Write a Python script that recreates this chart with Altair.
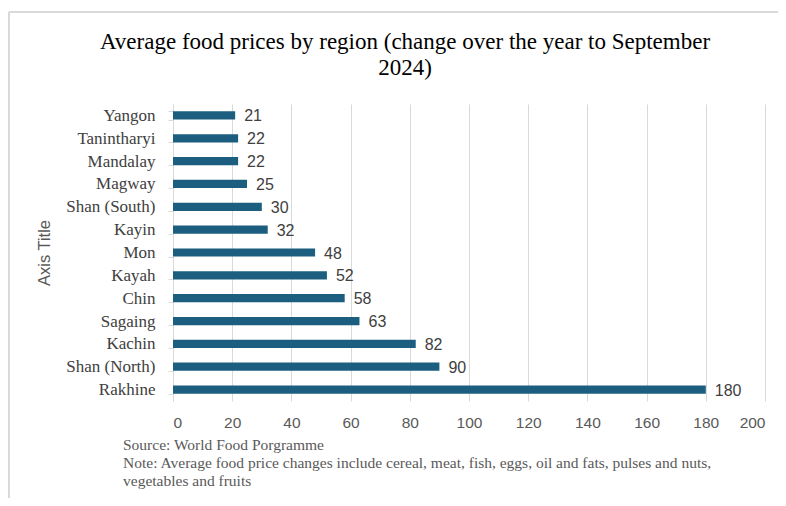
import altair as alt
import pandas as pd

regions = ["Yangon", "Tanintharyi", "Mandalay", "Magway", "Shan (South)", "Kayin",
           "Mon", "Kayah", "Chin", "Sagaing", "Kachin", "Shan (North)", "Rakhine"]
values = [21, 22, 22, 25, 30, 32, 48, 52, 58, 63, 82, 90, 180]
x_ticks = [0, 20, 40, 60, 80, 100, 120, 140, 160, 180, 200]
title_lines = ["Average food prices by region (change over the year to September", "2024)"]
notes = ["Source: World Food Porgramme",
         "Note: Average food price changes include cereal, meat, fish, eggs, oil and fats, pulses and nuts,",
         "vegetables and fruits"]

df = pd.DataFrame({"region": regions, "value": values})
notes_df = pd.DataFrame({"text": ["\n".join(notes)]})
title_df = pd.DataFrame({"text": ["\n".join(title_lines)]})

W, H = 592, 297
SERIF = "Liberation Serif"
SANS = "Liberation Sans"
GRID = "#d9d9d9"

base = alt.Chart(df)

bars = base.mark_bar(color="#1b5e80").encode(
    y=alt.Y("region:N", sort=regions,
            scale=alt.Scale(paddingInner=0.64, paddingOuter=0.32),
            axis=alt.Axis(title="Axis Title", titleFont=SANS, titleFontSize=16.5,
                          titleFontWeight="normal", titleColor="#595959",
                          titleX=-121,
                          labelFont=SERIF, labelFontSize=17, labelColor="#404040",
                          labelPadding=13, tickSize=5, tickColor=GRID, tickBand="extent",
                          domainColor=GRID, grid=False)),
    x=alt.X("value:Q", scale=alt.Scale(domain=[0, 200], nice=False),
            axis=alt.Axis(title=None, values=x_ticks, labelFont=SANS, labelFontSize=15.5,
                          labelColor="#595959", labelPadding=14, domain=False, ticks=False,
                          grid=True, gridColor=GRID)),
)

labels = base.mark_text(align="left", baseline="middle", dx=9, dy=1, font=SANS,
                        fontSize=16, color="#404040").encode(
    y=alt.Y("region:N", sort=regions),
    x="value:Q",
    text="value:Q",
)

note_text = alt.Chart(notes_df).mark_text(align="left", baseline="middle", font=SERIF,
                                          fontSize=15.5, lineHeight=18, lineBreak="\n",
                                          color="#595959").encode(
    x=alt.value(-50),
    y=alt.value(341),
    text="text:N",
)

title_text = alt.Chart(title_df).mark_text(align="center", baseline="middle", font=SERIF,
                                           fontSize=23, lineHeight=26, lineBreak="\n",
                                           color="#000000").encode(
    x=alt.value(232),
    y=alt.value(-62),
    text="text:N",
)

frame_top = base.mark_rule(color=GRID, strokeWidth=1.5).encode(
    x=alt.value(-164), x2=alt.value(W + 40), y=alt.value(-92))
frame_left = base.mark_rule(color=GRID, strokeWidth=1.5).encode(
    x=alt.value(-164), y=alt.value(-92), y2=alt.value(H + 120))

chart = alt.layer(frame_top, frame_left, bars, labels, note_text, title_text).properties(
    width=W, height=H,
    autosize=alt.AutoSizeParams(type="none"),
    padding={"left": 165, "top": 96, "right": 13, "bottom": 97},
).configure_view(stroke=None)

chart.save("out.html", embed_options={"renderer": "svg", "actions": False})
